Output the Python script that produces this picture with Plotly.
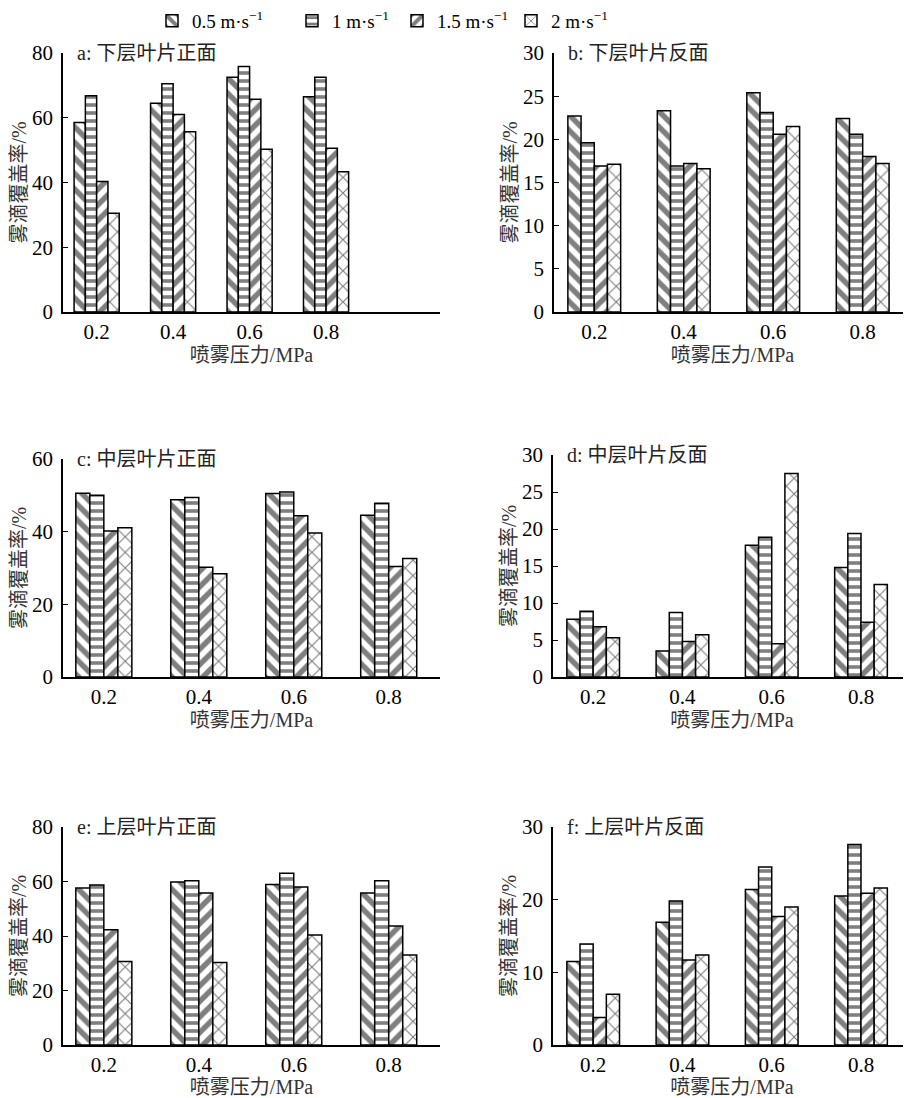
import plotly.graph_objects as go

pressures = ["0.2", "0.4", "0.6", "0.8"]
series_names = ["0.5 m·s<sup>−1</sup>", "1 m·s<sup>−1</sup>", "1.5 m·s<sup>−1</sup>", "2 m·s<sup>−1</sup>"]

# panel a: 下层叶片正面
a_05 = [58.5, 64.5, 72.5, 66.5]
a_1 = [66.8, 70.5, 75.8, 72.5]
a_15 = [40.3, 61.0, 65.7, 50.6]
a_2 = [30.5, 55.7, 50.3, 43.3]
# panel b: 下层叶片反面
b_05 = [22.7, 23.3, 25.4, 22.4]
b_1 = [19.6, 16.9, 23.1, 20.6]
b_15 = [16.9, 17.2, 20.6, 18.0]
b_2 = [17.1, 16.6, 21.5, 17.2]
# panel c: 中层叶片正面
c_05 = [50.6, 48.8, 50.5, 44.5]
c_1 = [50.0, 49.4, 50.9, 47.8]
c_15 = [40.2, 30.2, 44.4, 30.4]
c_2 = [41.1, 28.4, 39.6, 32.6]
# panel d: 中层叶片反面
d_05 = [7.8, 3.5, 17.8, 14.8]
d_1 = [8.9, 8.7, 18.9, 19.4]
d_15 = [6.8, 4.8, 4.5, 7.4]
d_2 = [5.3, 5.7, 27.5, 12.5]
# panel e: 上层叶片正面
e_05 = [57.6, 59.8, 58.9, 55.8]
e_1 = [58.7, 60.3, 63.0, 60.3]
e_15 = [42.3, 55.8, 58.0, 43.7]
e_2 = [30.6, 30.3, 40.4, 33.0]
# panel f: 上层叶片反面
f_05 = [11.5, 16.9, 21.4, 20.5]
f_1 = [13.9, 19.8, 24.5, 27.6]
f_15 = [3.8, 11.7, 17.7, 20.9]
f_2 = [7.0, 12.4, 19.0, 21.6]

panel_titles = ["a: 下层叶片正面", "b: 下层叶片反面", "c: 中层叶片正面",
                "d: 中层叶片反面", "e: 上层叶片正面", "f: 上层叶片反面"]
y_max = [80, 30, 60, 30, 80, 30]
y_dtick = [20, 5, 20, 5, 20, 10]
x_title = "喷雾压力/MPa"
y_title = "雾滴覆盖率/%"

panels = [
    [a_05, a_1, a_15, a_2],
    [b_05, b_1, b_15, b_2],
    [c_05, c_1, c_15, c_2],
    [d_05, d_1, d_15, d_2],
    [e_05, e_1, e_15, e_2],
    [f_05, f_1, f_15, f_2],
]

# page body has an 8px margin; figure coordinates = page coordinates - 8
OFF = 8
W, H = 911 - OFF, 1098 - OFF
# plot areas in page pixels (left, right, top, bottom)
boxes = [
    (63, 440, 53, 312),
    (554, 911, 53, 312),
    (63, 440, 459, 677),
    (553, 911, 455, 677),
    (63, 440, 827, 1045),
    (553, 911, 827, 1045),
]
x_ranges = [[-0.44, 4.49], [-0.45, 3.54], [-0.43, 3.54],
            [-0.45, 3.56], [-0.43, 3.54], [-0.45, 3.56]]

patterns = [
    dict(shape="\\", fgcolor="black", bgcolor="white", size=11, solidity=0.5),
    dict(shape="-", fgcolor="black", bgcolor="white", size=8, solidity=0.45),
    dict(shape="/", fgcolor="black", bgcolor="white", size=11, solidity=0.5),
    dict(shape="x", fgcolor="black", bgcolor="white", size=11, solidity=0.2),
]

serif = "Liberation Serif, Noto Sans CJK SC, serif"
cjk = "Liberation Serif, Noto Sans CJK SC, sans-serif"

fig = go.Figure()
legend_names = ["legend", "legend2", "legend3", "legend4"]

for p, data in enumerate(panels):
    xa = "x" if p == 0 else f"x{p+1}"
    ya = "y" if p == 0 else f"y{p+1}"
    for s, vals in enumerate(data):
        fig.add_trace(go.Bar(
            x=pressures, y=vals, name=series_names[s],
            xaxis=xa, yaxis=ya,
            marker=dict(color="white", pattern=patterns[s],
                        line=dict(color="black", width=1.5)),
            showlegend=(p == 0),
            legend=legend_names[s],
        ))
    l, r, t, b = [v - OFF for v in boxes[p]]
    xkey = "xaxis" if p == 0 else f"xaxis{p+1}"
    ykey = "yaxis" if p == 0 else f"yaxis{p+1}"
    fig.update_layout(**{
        xkey: dict(domain=[l / W, min(r / W, 1)], anchor=ya, type="category",
                   range=x_ranges[p], showline=True, linecolor="black",
                   linewidth=1.5, ticks="", showgrid=False, zeroline=False,
                   automargin=False,
                   tickfont=dict(family=serif, size=21, color="black"),
                   title=dict(text=x_title, font=dict(family=cjk, size=20, color="#333"),
                              standoff=0),
                   ticklabelstandoff=0),
        ykey: dict(domain=[1 - b / H, 1 - t / H], anchor=xa,
                   range=[0, y_max[p]], dtick=y_dtick[p], showline=True,
                   linecolor="black", linewidth=1.5, ticks="inside", ticklen=5,
                   tickcolor="black", showgrid=False, zeroline=False,
                   automargin=False,
                   tickfont=dict(family=serif, size=21, color="black"),
                   title=dict(text=y_title, font=dict(family=cjk, size=20, color="#333"),
                              standoff=0),
                   ticklabelstandoff=4),
    })
    fig.add_annotation(
        x=(l + 12) / W, y=1 - t / H, xref="paper", yref="paper",
        xanchor="left", yanchor="middle", showarrow=False,
        text=panel_titles[p], font=dict(family=cjk, size=20, color="#222"))

legend_x = [144, 284, 389, 503]
for i, ln in enumerate(legend_names):
    fig.update_layout(**{ln: dict(
        x=legend_x[i] / W, y=1 + 6 / H, xanchor="left", yanchor="top",
        orientation="h", bgcolor="rgba(0,0,0,0)", itemwidth=30,
        font=dict(family=serif, size=19, color="black"),
        tracegroupgap=0)})

fig.update_layout(
    width=W, height=H, margin=dict(l=0, r=0, t=0, b=0, autoexpand=False),
    plot_bgcolor="white", paper_bgcolor="white",
    barmode="group", bargap=0.41, bargroupgap=0,
)

fig.write_html("out.html")
